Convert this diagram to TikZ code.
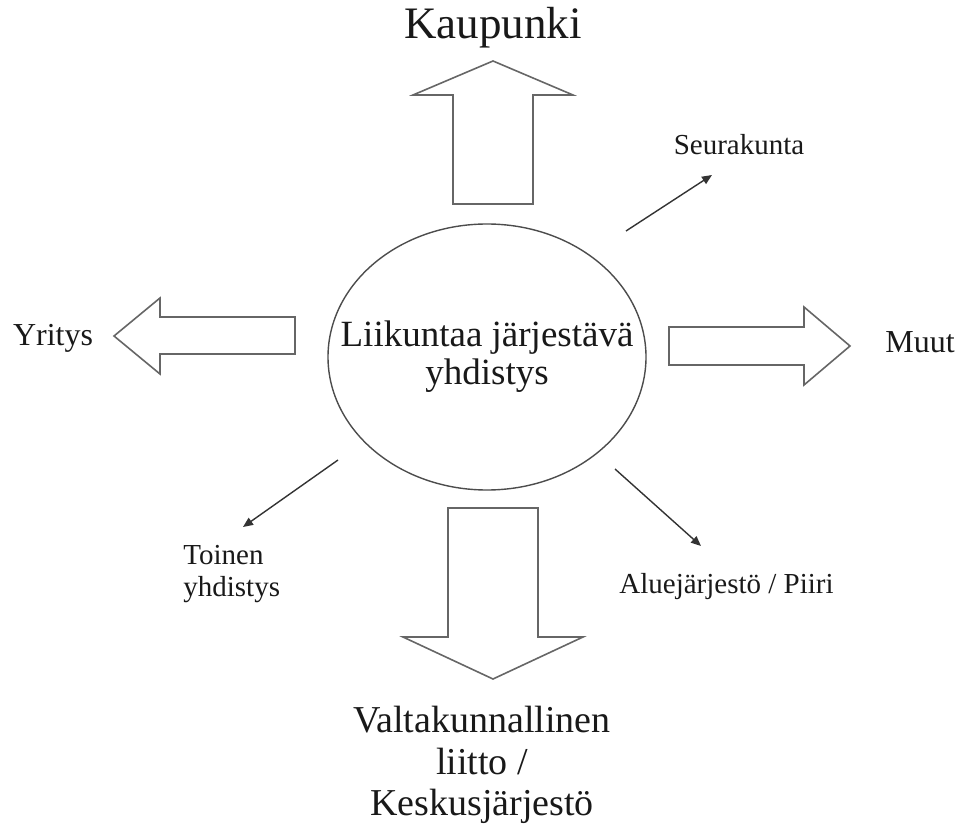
\documentclass[tikz,border=0pt]{standalone}
\usepackage{fontspec}
\setmainfont{Liberation Serif}
\usetikzlibrary{arrows.meta}

\tikzset{
    blockarrow/.style={draw=black!60, line width=0.8pt, line join=miter},
    thinarrow/.style={draw=black!80, line width=0.7pt, -{Triangle[length=5pt,width=4.2pt]}},
    smalllabel/.style={inner sep=0, text=black!90, font=\fontsize{14.5}{16}\selectfont},
    midlabel/.style={inner sep=0, text=black!90, font=\fontsize{16}{18}\selectfont},
    biglabel/.style={inner sep=0, text=black!90, font=\fontsize{19}{20.75}\selectfont}
}

\begin{document}
\begin{tikzpicture}[x=0.5pt, y=-0.5pt]
    \useasboundingbox (0,0) rectangle (963,839);

    % the association in the middle
    \node[inner sep=0, align=center, text=black!90, font=\fontsize{18.5}{19}\selectfont]
        (org) at (487,357) {Liikuntaa järjestävä\\yhdistys};
    \draw[black!70, line width=0.7pt] (org.center) ellipse [x radius=79.5pt, y radius=66.5pt];

    % big arrows
    \draw[blockarrow] (453,204) -- (453,95) -- (413,95) -- (493,61) -- (573,95) -- (533,95) -- (533,204) -- cycle;
    \draw[blockarrow] (295,317) -- (160,317) -- (160,298) -- (114,336) -- (160,374) -- (160,354) -- (295,354) -- cycle;
    \draw[blockarrow] (669,327) -- (804,327) -- (804,307) -- (850,346) -- (804,385) -- (804,365) -- (669,365) -- cycle;
    \draw[blockarrow] (448,508) -- (538,508) -- (538,637) -- (583,637) -- (493,679) -- (403,637) -- (448,637) -- cycle;

    \node[inner sep=0, text=black!90, font=\fontsize{22.5}{24}\selectfont, anchor=base] (city) at (493,39) {Kaupunki};
    \node[midlabel, anchor=base] (firm) at (53,346) {Yritys};
    \node[midlabel, anchor=base west] (other) at (885,353) {Muut};
    \node[biglabel, align=center] (union) at (482,765) {Valtakunnallinen\\liitto /\\Keskusjärjestö};

    % small arrows
    \node[smalllabel, anchor=base] (parish) at (739,155) {Seurakunta};
    \node[smalllabel, align=left, anchor=north west] (assoc) at (183,545) {Toinen\\yhdistys};
    \node[smalllabel, anchor=base west] (district) at (619,593) {Aluejärjestö / Piiri};

    \coordinate (p1) at (626,231);
    \coordinate (p2) at (712,175);
    \coordinate (a1) at (338,460);
    \coordinate (a2) at (243,527);
    \coordinate (d1) at (615,469);
    \coordinate (d2) at (701,546);
    \draw[thinarrow] (p1) -- (p2);
    \draw[thinarrow] (a1) -- (a2);
    \draw[thinarrow] (d1) -- (d2);
\end{tikzpicture}
\end{document}
